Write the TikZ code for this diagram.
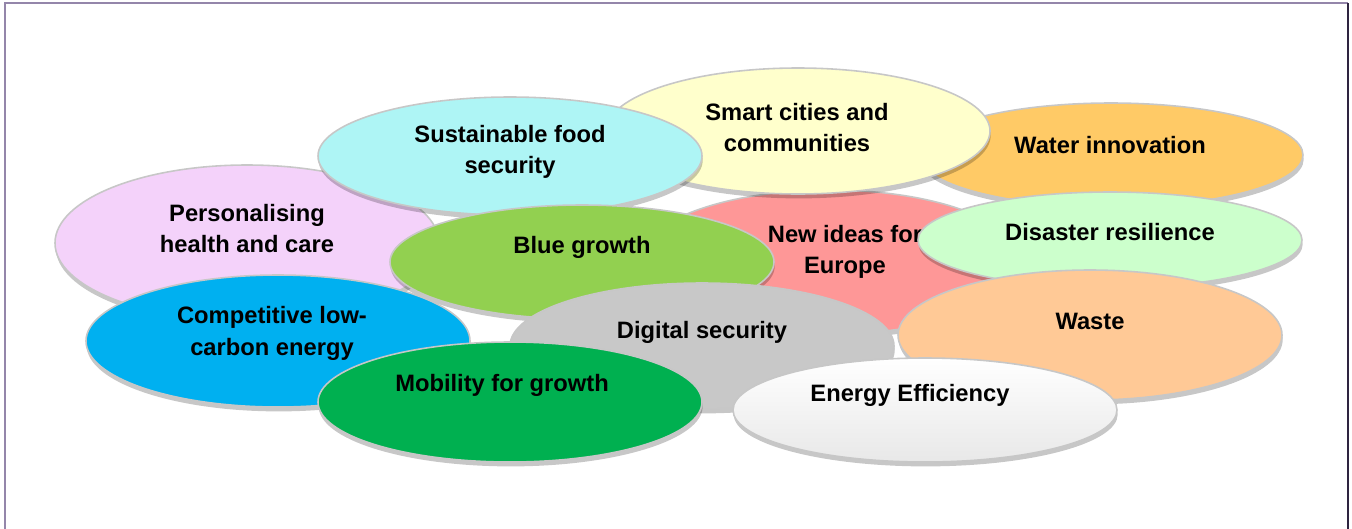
\documentclass[tikz,border=0pt]{standalone}
\usepackage{fontspec}
\setmainfont{Liberation Sans}
\usetikzlibrary{shapes.geometric,shadows}
\definecolor{healthc}{HTML}{F4D2FA}
\definecolor{foodc}{HTML}{AEF5F5}
\definecolor{smartc}{HTML}{FFFFCC}
\definecolor{waterc}{HTML}{FFCA66}
\definecolor{ideasc}{HTML}{FE9797}
\definecolor{bluegc}{HTML}{92D050}
\definecolor{disasterc}{HTML}{CCFFCC}
\definecolor{wastec}{HTML}{FFC996}
\definecolor{carbonc}{HTML}{00B0F0}
\definecolor{digitalc}{HTML}{C8C8C8}
\definecolor{mobilityc}{HTML}{00B050}
\definecolor{framec}{HTML}{9486AA}
\definecolor{framedark}{HTML}{2E2440}
\tikzset{
  bubble/.style={ellipse, draw=black!22, line width=0.9pt, minimum width=7.68cm,
    inner sep=0pt, drop shadow={shadow xshift=0.4pt, shadow yshift=-2.5pt, fill=black, opacity=0.22}},
  lbl/.style={align=center, font=\fontsize{13.5}{18}\selectfont\bfseries, inner sep=0pt}
}
\begin{document}
\begin{tikzpicture}
\useasboundingbox (0,0) rectangle (27.04,-10.56);
\draw [framec, line width=1.1pt] (0.1,-10.6) |- (26.96,-0.06);
\draw [framedark, line width=1.1pt] (26.96,-0.06) -- (26.96,-10.6);

\node (health) at (4.94,-4.86) [bubble, fill=healthc, minimum height=3.12cm] {};
\node (healthtxt) at (4.94,-4.57) [lbl] {Personalising\\health and care};
\node (water) at (22.22,-3.10) [bubble, fill=waterc, minimum height=2.08cm] {};
\node (watertxt) at (22.2,-2.9) [lbl] {Water innovation};
\node (ideas) at (16.6,-5.24) [bubble, fill=ideasc, minimum height=2.88cm] {};
\node (ideastxt) at (16.9,-5.04) [lbl] {New ideas for\\Europe};
\node (smart) at (15.96,-2.62) [bubble, fill=smartc, minimum height=2.52cm] {};
\node (smarttxt) at (15.94,-2.55) [lbl] {Smart cities and\\communities};
\node (food) at (10.2,-3.12) [bubble, fill=foodc, minimum height=2.36cm] {};
\node (foodtxt) at (10.2,-3.04) [lbl] {Sustainable food\\security};
\node (blueg) at (11.64,-5.24) [bubble, fill=bluegc, minimum height=2.28cm] {};
\node (bluegtxt) at (11.64,-4.94) [lbl] {Blue growth};
\node (disaster) at (22.2,-4.8) [bubble, fill=disasterc, minimum height=1.92cm] {};
\node (disastertxt) at (22.2,-4.64) [lbl] {Disaster resilience};
\node (waste) at (21.8,-6.7) [bubble, fill=wastec, minimum height=2.6cm] {};
\node (wastetxt) at (21.8,-6.42) [lbl] {Waste};
\node (carbon) at (5.56,-6.82) [bubble, fill=carbonc, minimum height=2.64cm] {};
\node (carbontxt) at (5.44,-6.67) [lbl] {Competitive low-\\carbon energy};
\node (digital) at (14.04,-6.92) [bubble, fill=digitalc, minimum height=2.52cm] {};
\node (digitaltxt) at (14.04,-6.64) [lbl] {Digital security};
\node (mobility) at (10.2,-8.04) [bubble, fill=mobilityc, minimum height=2.4cm] {};
\node (mobilitytxt) at (10.04,-7.7) [lbl] {Mobility for growth};
\node (energy) at (18.5,-8.2) [bubble, top color=white, bottom color=black!9, minimum height=2.08cm] {};
\node (energytxt) at (18.2,-7.9) [lbl] {Energy Efficiency};
\end{tikzpicture}
\end{document}
